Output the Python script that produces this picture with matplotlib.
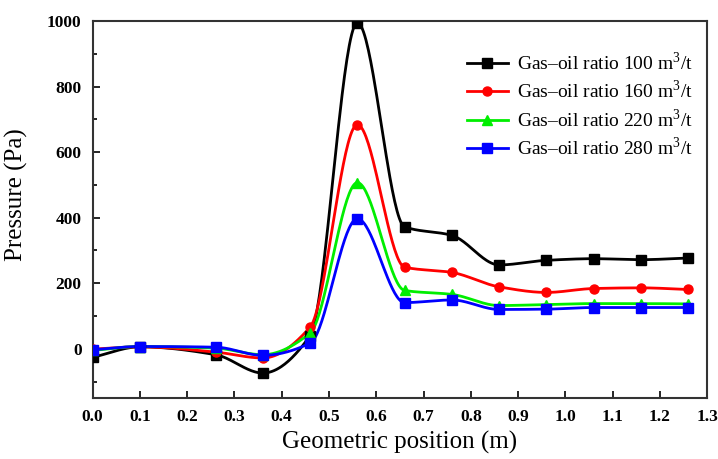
import matplotlib
matplotlib.use("Agg")
import matplotlib.pyplot as plt
import numpy as np
from matplotlib.ticker import MultipleLocator, FormatStrFormatter

position = [0.0, 0.1, 0.26, 0.36, 0.46, 0.56, 0.66, 0.76, 0.86, 0.96, 1.06, 1.16, 1.26]
p_100 = [-26, 6, -18, -74, 40, 995, 372, 346, 256, 270, 275, 272, 277]
p_160 = [-1, 6, -10, -28, 66, 684, 249, 233, 189, 172, 184, 186, 181]
p_220 = [-5, 7, 2, -18, 48, 507, 178, 166, 132, 135, 138, 138, 137]
p_280 = [-3, 7, 5, -20, 17, 397, 141, 149, 120, 121, 126, 126, 126]
labels = ["Gas\u2013oil ratio 100 m$^3$/t", "Gas\u2013oil ratio 160 m$^3$/t",
          "Gas\u2013oil ratio 220 m$^3$/t", "Gas\u2013oil ratio 280 m$^3$/t"]
colors = ["#000000", "#ff0000", "#00ee00", "#0000ff"]
markers = ["s", "o", "^", "s"]

plt.rcParams["font.family"] = ["Liberation Serif", "DejaVu Serif"]
plt.rcParams["mathtext.fontset"] = "custom"
plt.rcParams["mathtext.rm"] = "Liberation Serif"


def smooth(x, y, n=500):
    # shape-preserving cubic (pchip) just for the connecting line
    x = np.asarray(x, float)
    y = np.asarray(y, float)
    h = np.diff(x)
    delta = np.diff(y) / h
    d = np.zeros_like(y)
    for k in range(1, len(x) - 1):
        if delta[k - 1] * delta[k] > 0:
            w1 = 2 * h[k] + h[k - 1]
            w2 = h[k] + 2 * h[k - 1]
            d[k] = (w1 + w2) / (w1 / delta[k - 1] + w2 / delta[k])
    d[0] = delta[0]
    d[-1] = delta[-1]
    xs = np.linspace(x[0], x[-1], n)
    i = np.clip(np.searchsorted(x, xs) - 1, 0, len(x) - 2)
    t = (xs - x[i]) / h[i]
    h00 = 2 * t ** 3 - 3 * t ** 2 + 1
    h10 = t ** 3 - 2 * t ** 2 + t
    h01 = -2 * t ** 3 + 3 * t ** 2
    h11 = t ** 3 - t ** 2
    ys = h00 * y[i] + h10 * h[i] * d[i] + h01 * y[i + 1] + h11 * h[i] * d[i + 1]
    return xs, ys


fig = plt.figure(figsize=(7.18, 4.59), dpi=100)
ax = fig.add_axes([0.129, 0.133, 0.856, 0.821])

for vals, lab, col, mk in zip([p_100, p_160, p_220, p_280], labels, colors, markers):
    xs, ys = smooth(position, vals)
    ax.plot(xs, ys, color=col, linewidth=2, zorder=2)
    ax.plot(position, vals, linestyle="none", marker=mk, color=col, markersize=6.5, zorder=3)
    ax.plot([], [], color=col, linewidth=2, marker=mk, markersize=6.5, label=lab)

ax.set_xlim(0, 1.3)
ax.set_ylim(-150, 1000)
ax.xaxis.set_major_locator(MultipleLocator(0.1))
ax.xaxis.set_major_formatter(FormatStrFormatter("%.1f"))
ax.yaxis.set_major_locator(MultipleLocator(200))
ax.yaxis.set_minor_locator(MultipleLocator(100))
ax.tick_params(direction="in", which="both", labelsize=12.5, width=1.2)
ax.tick_params(which="major", length=5, pad=8)
ax.tick_params(which="minor", length=3)
for t in ax.get_xticklabels() + ax.get_yticklabels():
    t.set_fontweight("bold")
for s in ax.spines.values():
    s.set_linewidth(1.5)
    s.set_color("#333333")

ax.set_xlabel("Geometric position (m)", fontsize=18, labelpad=4)
ax.set_ylabel("Pressure (Pa)", fontsize=18)
ax.yaxis.set_label_coords(-0.105, 0.54)

ax.legend(loc="upper left", bbox_to_anchor=(0.609, 0.92), fontsize=14, frameon=False,
          borderpad=0, borderaxespad=0, handlelength=2.1, handletextpad=0.45,
          labelspacing=0.3)

fig.savefig("out.png", dpi=100)
